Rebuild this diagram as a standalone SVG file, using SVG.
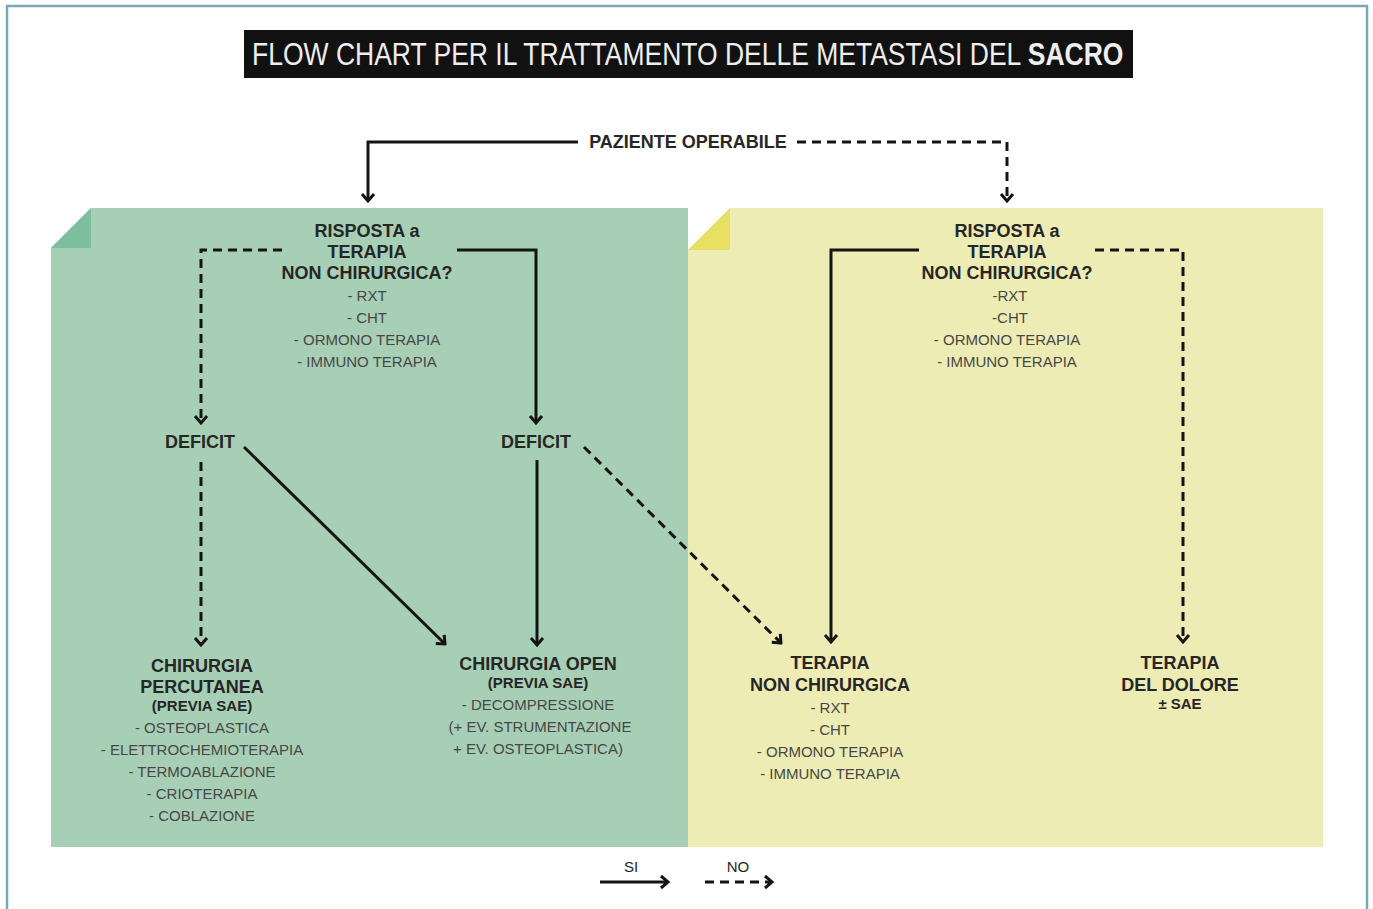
<svg xmlns="http://www.w3.org/2000/svg" width="1373" height="909" viewBox="0 0 1373 909">
<style>
.h{font-family:"Liberation Sans",Arial,sans-serif;font-weight:bold;font-size:18px;fill:#262626;text-anchor:middle}
.s{font-family:"Liberation Sans",Arial,sans-serif;font-weight:bold;font-size:15px;fill:#262626;text-anchor:middle}
.i{font-family:"Liberation Sans",Arial,sans-serif;font-size:15px;fill:#474747;text-anchor:middle}
.so{fill:none;stroke:#141414;stroke-width:3;marker-end:url(#ah)}
.da{fill:none;stroke:#141414;stroke-width:3;stroke-dasharray:9 6;marker-end:url(#ah)}
</style>
<defs>
<marker id="ah" viewBox="-10 -8 12 16" refX="0" refY="0" markerWidth="12" markerHeight="16" markerUnits="userSpaceOnUse" orient="auto">
<path d="M-7,-6 L0,0 L-7,6" fill="none" stroke="#141414" stroke-width="3"/>
</marker>
</defs>
<rect width="1373" height="909" fill="#ffffff"/>
<path d="M7,920 V6 H1367 V920" fill="none" stroke="#7aa9b2" stroke-width="2.5"/>

<g id="panels">
<polygon points="91,208 688,208 688,847 51,847 51,248" fill="#a7cfb5"/>
<polygon points="51,248 91,208 91,248" fill="#7dbf9d"/>
<polygon points="730,208 1323,208 1323,847 688,847 688,250" fill="#eeecb5"/>
<polygon points="688,250 730,208 730,250" fill="#e7e065"/>
</g>

<g id="title">
<rect x="244" y="30" width="889" height="48" fill="#111111"/>
<text transform="translate(252,65) scale(1,1.16)" x="0" y="0" font-family="Liberation Sans, Arial, sans-serif" font-size="26.5" fill="#eeeeee">FLOW CHART PER IL TRATTAMENTO DELLE METASTASI DEL <tspan font-weight="bold">SACRO</tspan></text>
</g>

<g id="connectors">
<path class="so" d="M578,142 H368 V201"/>
<path class="da" d="M797,142 H1007 V201"/>
<path class="da" d="M282,250 H201 V423"/>
<path class="so" d="M457,250 H536 V423"/>
<path class="da" d="M201,462 V645"/>
<path class="so" d="M244,447 L445,644"/>
<path class="so" d="M537,460 V645"/>
<path class="da" d="M584,447 L781,643"/>
<path class="so" d="M919,250 H831 V642"/>
<path class="da" d="M1095,250 H1183 V642"/>
</g>

<g id="paziente">
<text class="h" x="688" y="148">PAZIENTE OPERABILE</text>
</g>

<g id="risposta-left">
<text class="h" x="367" y="237">RISPOSTA a</text>
<text class="h" x="367" y="258">TERAPIA</text>
<text class="h" x="367" y="279">NON CHIRURGICA?</text>
<text class="i" x="367" y="301">- RXT</text>
<text class="i" x="367" y="323">- CHT</text>
<text class="i" x="367" y="345">- ORMONO TERAPIA</text>
<text class="i" x="367" y="367">- IMMUNO TERAPIA</text>
</g>

<g id="risposta-right">
<text class="h" x="1007" y="237">RISPOSTA a</text>
<text class="h" x="1007" y="258">TERAPIA</text>
<text class="h" x="1007" y="279">NON CHIRURGICA?</text>
<text class="i" x="1010" y="301">-RXT</text>
<text class="i" x="1010" y="323">-CHT</text>
<text class="i" x="1007" y="345">- ORMONO TERAPIA</text>
<text class="i" x="1007" y="367">- IMMUNO TERAPIA</text>
</g>

<g id="deficit-left">
<text class="h" x="200" y="448">DEFICIT</text>
</g>
<g id="deficit-mid">
<text class="h" x="536" y="448">DEFICIT</text>
</g>

<g id="chirurgia-percutanea">
<text class="h" x="202" y="672">CHIRURGIA</text>
<text class="h" x="202" y="693">PERCUTANEA</text>
<text class="s" x="202" y="711">(PREVIA SAE)</text>
<text class="i" x="202" y="733">- OSTEOPLASTICA</text>
<text class="i" x="202" y="755">- ELETTROCHEMIOTERAPIA</text>
<text class="i" x="202" y="777">- TERMOABLAZIONE</text>
<text class="i" x="202" y="799">- CRIOTERAPIA</text>
<text class="i" x="202" y="821">- COBLAZIONE</text>
</g>

<g id="chirurgia-open">
<text class="h" x="538" y="670">CHIRURGIA OPEN</text>
<text class="s" x="538" y="688">(PREVIA SAE)</text>
<text class="i" x="538" y="710">- DECOMPRESSIONE</text>
<text class="i" x="540" y="732">(+ EV. STRUMENTAZIONE</text>
<text class="i" x="538" y="754">+ EV. OSTEOPLASTICA)</text>
</g>

<g id="terapia-non-chirurgica">
<text class="h" x="830" y="669">TERAPIA</text>
<text class="h" x="830" y="691">NON CHIRURGICA</text>
<text class="i" x="830" y="713">- RXT</text>
<text class="i" x="830" y="735">- CHT</text>
<text class="i" x="830" y="757">- ORMONO TERAPIA</text>
<text class="i" x="830" y="779">- IMMUNO TERAPIA</text>
</g>

<g id="terapia-dolore">
<text class="h" x="1180" y="669">TERAPIA</text>
<text class="h" x="1180" y="691">DEL DOLORE</text>
<text class="s" x="1180" y="709">± SAE</text>
</g>

<g id="legend">
<text class="i" x="631" y="872" style="fill:#262626">SI</text>
<path class="so" d="M600,882 H668"/>
<text class="i" x="738" y="872" style="fill:#262626">NO</text>
<path class="da" d="M705,882 H772"/>
</g>
</svg>
